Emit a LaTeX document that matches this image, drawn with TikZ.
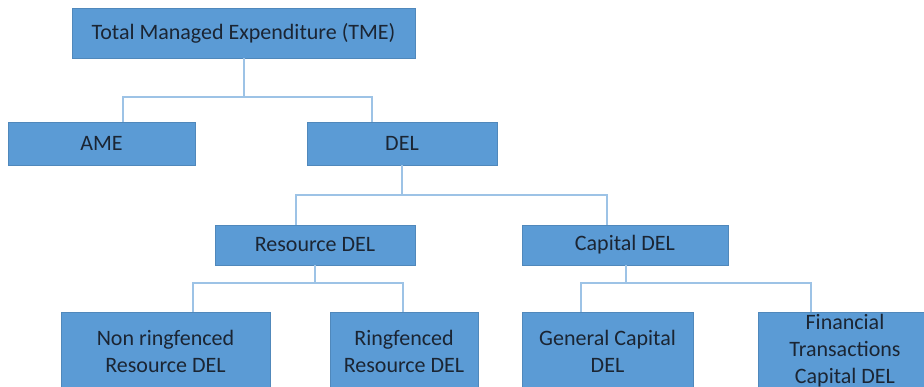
\documentclass[tikz,border=0pt]{standalone}
\usepackage{fontspec}
\setmainfont{Carlito}
\usepackage{tikz}
\usetikzlibrary{
	positioning,
	calc
}
\definecolor{boxblue}{HTML}{5B9BD5}
\definecolor{linkblue}{HTML}{9DC3E6}
\definecolor{boxtext}{HTML}{1B2533}

\tikzset{
	box/.style={fill=boxblue,draw=boxblue!88!black,line width=0.6pt,
		text=boxtext,align=center,inner sep=0pt,
		font=\fontsize{22}{27}\selectfont},
	link/.style={draw=linkblue,line width=2pt}
}

\begin{document}
\begin{tikzpicture}[x=1pt,y=-1pt]
		\useasboundingbox (0,0) rectangle (924,387);
		\draw
			node[box,minimum width=343,minimum height=50] (tme)     at (243.5,33)  {Total Managed Expenditure (TME)}

			node[box,minimum width=187,minimum height=43] (ame)     at (101.5,143.5) {AME}
			node[box,minimum width=190,minimum height=43] (del)     at (402,143.5)   {DEL}

			node[box,minimum width=200,minimum height=40] (rdel)    at (315,245)   {Resource DEL}
			node[box,minimum width=206,minimum height=40] (cdel)    at (625,245)   {Capital DEL}

			node[box,minimum width=209,minimum height=78] (nonring) at (165.5,351) {Non ringfenced\\Resource DEL}
			node[box,minimum width=148,minimum height=78] (ring)    at (404,351)   {Ringfenced\\Resource DEL}
			node[box,minimum width=171,minimum height=78] (gencap)  at (607.5,351) {General Capital\\DEL}
			node[box,minimum width=174,minimum height=78] (fincap)  at (845,351)   {Financial\\Transactions\\Capital DEL}
		;

		% tree links
		\draw[link] (tme.south) -- ++(0,39) coordinate (j1);
		\draw[link] ([xshift=21.5]ame.north) |- (j1) -| ([xshift=-30]del.north);

		\draw[link] (del.south) -- ++(0,30) coordinate (j2);
		\draw[link] ([xshift=-19]rdel.north) |- (j2) -| ([xshift=-18]cdel.north);

		\draw[link] (rdel.south) -- ++(0,18) coordinate (j3);
		\draw[link] ([xshift=27.5]nonring.north) |- (j3) -| ([xshift=-1]ring.north);

		\draw[link] ([xshift=1]cdel.south) -- ++(0,18) coordinate (j4);
		\draw[link] ([xshift=-26.5]gencap.north) |- (j4) -| ([xshift=-34]fincap.north);
	\end{tikzpicture}
\end{document}
